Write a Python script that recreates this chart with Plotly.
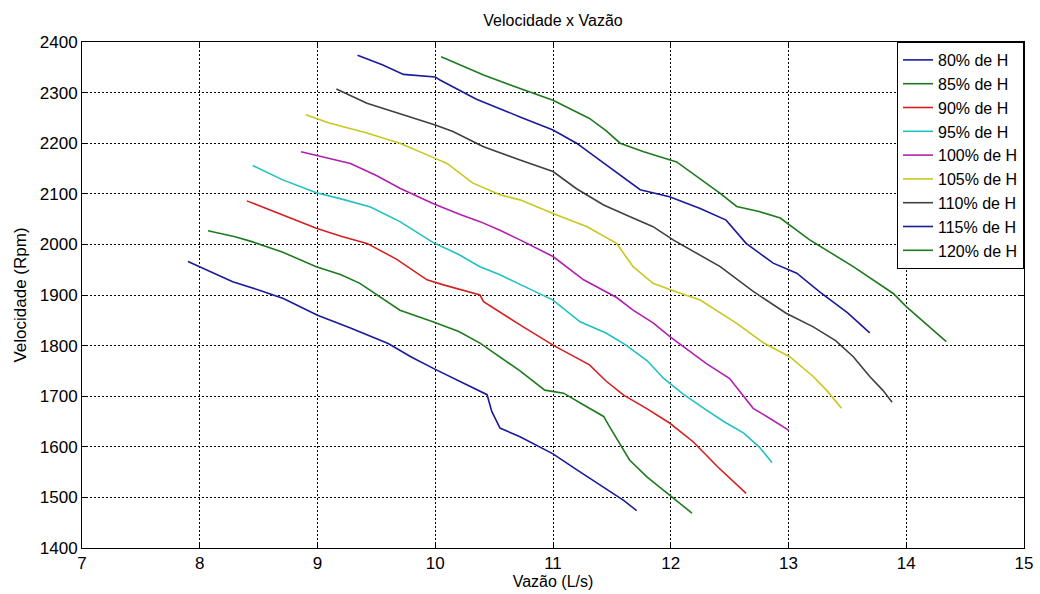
import plotly.graph_objects as go

names = ["80% de H", "85% de H", "90% de H", "95% de H", "100% de H",
         "105% de H", "110% de H", "115% de H", "120% de H"]
colors = ["#1a1a9a", "#1f7a1f", "#d42020", "#20c0c0", "#b020b0",
          "#c8c820", "#404040", "#1a1a9a", "#1f7a1f"]

x80 = [7.90, 8.10, 8.28, 8.50, 8.71, 9.00, 9.28, 9.60, 9.80, 10.00, 10.20, 10.44, 10.48, 10.55, 10.72, 11.00, 11.20, 11.40, 11.60, 11.71]
y80 = [1966, 1945, 1926, 1910, 1893, 1860, 1835, 1804, 1777, 1753, 1730, 1703, 1670, 1637, 1620, 1586, 1555, 1525, 1494, 1474]

x85 = [8.07, 8.30, 8.45, 8.70, 8.99, 9.20, 9.36, 9.53, 9.70, 9.98, 10.20, 10.38, 10.55, 10.72, 10.93, 11.09, 11.25, 11.43, 11.48, 11.65, 11.80, 11.99, 12.18]
y85 = [2027, 2015, 2005, 1985, 1956, 1940, 1923, 1897, 1870, 1847, 1828, 1805, 1778, 1750, 1712, 1706, 1684, 1660, 1640, 1574, 1540, 1505, 1469]

x90 = [8.40, 8.70, 8.99, 9.20, 9.42, 9.67, 9.80, 9.93, 10.07, 10.38, 10.41, 10.55, 10.72, 11.00, 11.31, 11.45, 11.60, 11.80, 11.99, 12.19, 12.40, 12.64]
y90 = [2086, 2058, 2032, 2016, 2002, 1971, 1950, 1930, 1920, 1900, 1887, 1866, 1841, 1801, 1762, 1730, 1702, 1675, 1647, 1610, 1560, 1508]

x95 = [8.45, 8.70, 8.99, 9.20, 9.45, 9.70, 9.98, 10.20, 10.38, 10.55, 10.72, 11.00, 11.23, 11.45, 11.62, 11.80, 11.94, 12.10, 12.30, 12.45, 12.62, 12.75, 12.86]
y95 = [2156, 2128, 2102, 2090, 2074, 2045, 2004, 1980, 1956, 1940, 1921, 1890, 1847, 1825, 1801, 1770, 1735, 1705, 1673, 1650, 1627, 1600, 1569]

x100 = [8.86, 9.00, 9.28, 9.50, 9.70, 9.98, 10.20, 10.38, 10.55, 10.72, 11.00, 11.26, 11.54, 11.68, 11.85, 11.99, 12.15, 12.30, 12.50, 12.62, 12.70, 12.85, 13.00]
y100 = [2183, 2175, 2160, 2136, 2111, 2081, 2060, 2045, 2028, 2009, 1976, 1930, 1895, 1870, 1845, 1818, 1790, 1765, 1735, 1700, 1676, 1655, 1633]

x105 = [8.90, 9.10, 9.42, 9.70, 10.00, 10.10, 10.32, 10.55, 10.72, 11.00, 11.29, 11.54, 11.68, 11.85, 12.05, 12.25, 12.56, 12.79, 13.01, 13.21, 13.33, 13.45]
y105 = [2256, 2240, 2220, 2200, 2170, 2160, 2121, 2098, 2088, 2061, 2035, 2002, 1956, 1923, 1906, 1890, 1844, 1805, 1778, 1739, 1710, 1676]

x110 = [9.16, 9.42, 9.70, 10.00, 10.15, 10.41, 10.72, 11.00, 11.20, 11.43, 11.65, 11.85, 12.02, 12.20, 12.42, 12.70, 12.98, 13.21, 13.40, 13.55, 13.69, 13.80, 13.88]
y110 = [2307, 2279, 2258, 2236, 2223, 2193, 2167, 2144, 2110, 2078, 2055, 2035, 2009, 1985, 1956, 1907, 1864, 1837, 1810, 1778, 1739, 1712, 1688]

x115 = [9.34, 9.55, 9.73, 10.00, 10.04, 10.35, 10.72, 11.00, 11.20, 11.51, 11.74, 11.99, 12.25, 12.47, 12.64, 12.87, 13.07, 13.27, 13.50, 13.69]
y115 = [2374, 2355, 2336, 2331, 2325, 2287, 2252, 2226, 2200, 2147, 2108, 2094, 2071, 2048, 2002, 1963, 1943, 1905, 1865, 1825]

x120 = [10.05, 10.41, 10.72, 11.00, 11.31, 11.45, 11.57, 11.77, 12.05, 12.22, 12.42, 12.56, 12.75, 12.93, 13.18, 13.55, 13.89, 14.00, 14.34]
y120 = [2371, 2335, 2308, 2285, 2249, 2225, 2200, 2183, 2163, 2134, 2101, 2075, 2065, 2052, 2009, 1956, 1903, 1877, 1808]

xs = [x80, x85, x90, x95, x100, x105, x110, x115, x120]
ys = [y80, y85, y90, y95, y100, y105, y110, y115, y120]

x_ticks = [7, 8, 9, 10, 11, 12, 13, 14, 15]
y_ticks = [1400, 1500, 1600, 1700, 1800, 1900, 2000, 2100, 2200, 2300, 2400]

FONT = "Liberation Sans, Arial, sans-serif"

fig = go.Figure()
for n, c, x, y in zip(names, colors, xs, ys):
    fig.add_trace(go.Scatter(x=x, y=y, mode="lines", name=n,
                             line=dict(color=c, width=1.6)))

axis_common = dict(
    showline=True, linecolor="black", linewidth=1, mirror="allticks",
    ticks="inside", ticklen=5, tickcolor="black", automargin=False,
    showgrid=True, gridcolor="black", gridwidth=1, griddash="2px,2px",
    zeroline=False, tickfont=dict(family=FONT, size=17, color="black"),
)

fig.update_layout(
    width=1040, height=594,
    margin=dict(l=82, r=16, t=42, b=46, autoexpand=False),
    paper_bgcolor="white", plot_bgcolor="white",
    title=dict(text="Velocidade x Vazão", x=553/1040, xanchor="center",
               y=1 - 20/594, yanchor="middle",
               font=dict(family=FONT, size=16, color="black")),
    xaxis=dict(range=[7, 15], tickvals=x_ticks,
               title=dict(text="Vazão (L/s)", standoff=2,
                          font=dict(family=FONT, size=16, color="black")),
               **axis_common),
    yaxis=dict(range=[1400, 2400], tickvals=y_ticks,
               title=dict(text="Velocidade (Rpm)", standoff=8,
                          font=dict(family=FONT, size=17, color="black")),
               **axis_common),
    legend=dict(x=1, y=1, xanchor="right", yanchor="top",
                bordercolor="black", borderwidth=1, bgcolor="white",
                entrywidth=100, entrywidthmode="pixels",
                font=dict(family=FONT, size=16, color="black")),
    showlegend=True,
)

fig.write_html("out.html")
